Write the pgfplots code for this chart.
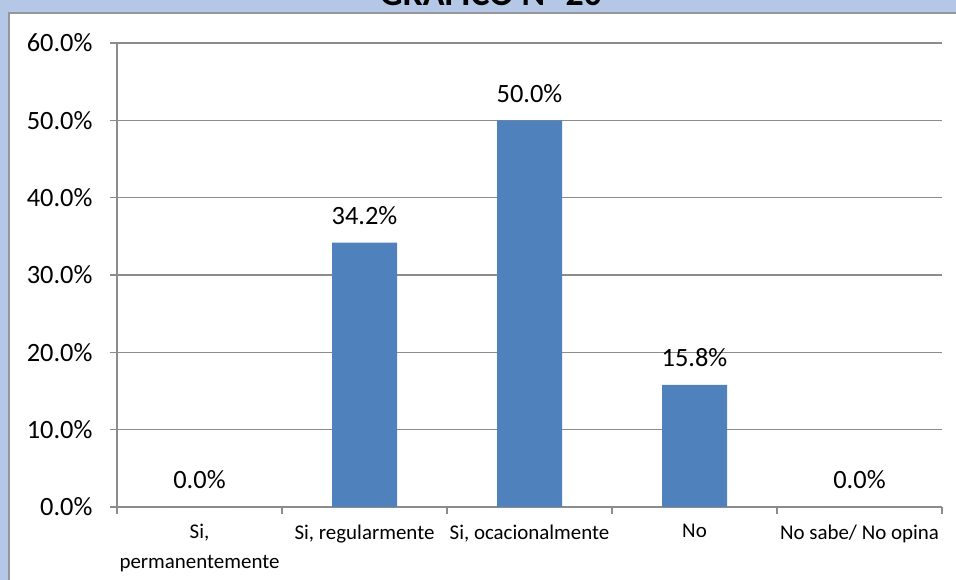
\documentclass[border=0pt]{standalone}
\usepackage{fontspec}
\setmainfont{Carlito}
\usepackage{pgfplots}
\pgfplotsset{compat=1.18}
\definecolor{Frame}{HTML}{B4C7E7}
\definecolor{BarBlue}{HTML}{4F81BD}
\definecolor{GridGray}{HTML}{8C8C8C}
\definecolor{PanelEdge}{HTML}{969696}
\begin{document}
\begin{tikzpicture}[x=1bp,y=1bp]
\useasboundingbox (0,0) rectangle (956,580);
\clip (0,0) rectangle (956,580);
\fill[Frame] (0,0) rectangle (956,580);
\filldraw[fill=white,draw=PanelEdge,line width=2bp] (9,-10) rectangle (975,567);
\node[font=\bfseries\fontsize{36}{40}\selectfont,anchor=base,inner sep=0pt] at (491,574) {GRÁFICO N° 20};
\begin{axis}[at={(117bp,73bp)},anchor=south west,scale only axis,
  width=825bp,height=464bp,
  ybar,bar width=65bp,
  xmin=-0.5,xmax=4.5,ymin=0,ymax=60,
  axis x line=bottom,axis y line=left,
  axis line style={draw=GridGray,line width=1.2bp,-},
  ymajorgrids,grid style={draw=GridGray,line width=1.2bp},
  tick align=outside,
  major tick length=7bp,minor tick length=7bp,
  tick style={draw=GridGray,line width=1.2bp},
  xtick={0,1,2,3,4},
  minor xtick={-0.5,0.5,1.5,2.5,3.5,4.5},
  every major x tick/.style={draw=none},
  xticklabels={{Si,\\permanentemente},{Si, regularmente},{Si, ocacionalmente},{No},{No sabe/ No opina}},
  xticklabel style={font=\fontsize{21}{30}\selectfont,align=center,anchor=north,yshift=-7bp},
  ytick={0,10,20,30,40,50,60},
  yticklabel={\pgfmathprintnumber[assume math mode=true,fixed,fixed zerofill,precision=1]{\tick}\%},
  yticklabel style={font=\fontsize{26.5}{30}\selectfont,xshift=-14bp},
  nodes near coords={\pgfmathprintnumber[assume math mode=true,fixed,fixed zerofill,precision=1]{\pgfplotspointmeta}\%},
  every node near coord/.append style={font=\fontsize{26.5}{30}\selectfont,anchor=base,yshift=18bp,text=black,inner sep=0pt},
  clip=false]
\addplot[fill=BarBlue,draw=none] coordinates {(0,0.0)(1,34.2)(2,50.0)(3,15.8)(4,0.0)};
\end{axis}
\end{tikzpicture}
\end{document}
